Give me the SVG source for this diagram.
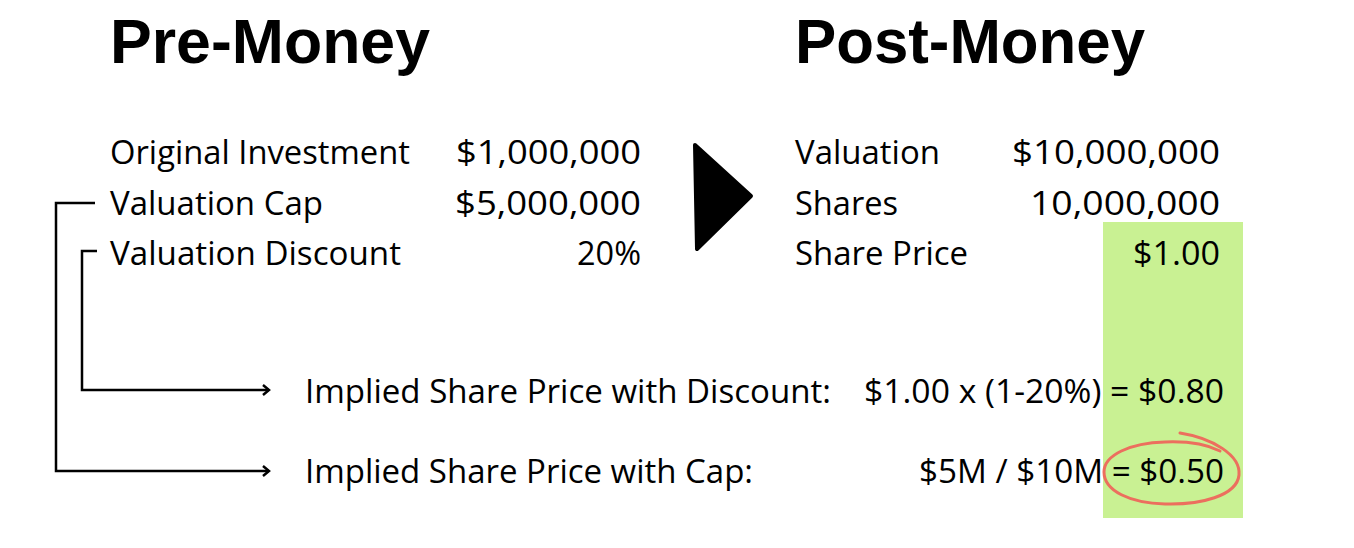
<svg xmlns="http://www.w3.org/2000/svg" width="1354" height="548" viewBox="0 0 1354 548">
<style>
.t{font-family:"Open Sans","Liberation Sans",sans-serif;font-size:32px;fill:#000}
.r{text-anchor:end}
.h{font-family:"Liberation Sans","Open Sans",sans-serif;font-size:63px;font-weight:700;fill:#000}
.c{fill:none;stroke:#000;stroke-width:2.5}
</style>
<defs>
<marker id="arr" markerUnits="userSpaceOnUse" markerWidth="14" markerHeight="14" refX="9" refY="6" orient="auto">
<path d="M3,1 L9,6 L3,11" fill="none" stroke="#000" stroke-width="2.5"/>
</marker>
</defs>
<rect x="0" y="0" width="1354" height="548" fill="#fff"/>
<g id="highlight"><rect x="1103" y="222" width="140" height="296" fill="#c9f193"/></g>
<g id="pre-money">
<text class="h" x="110" y="63" textLength="320" lengthAdjust="spacingAndGlyphs">Pre-Money</text>
<text class="t" x="110" y="164" textLength="300" lengthAdjust="spacingAndGlyphs">Original Investment</text>
<text class="t r" x="641" y="164" textLength="185" lengthAdjust="spacingAndGlyphs">$1,000,000</text>
<text class="t" x="110" y="215" textLength="213" lengthAdjust="spacingAndGlyphs">Valuation Cap</text>
<text class="t r" x="641" y="215" textLength="186" lengthAdjust="spacingAndGlyphs">$5,000,000</text>
<text class="t" x="110" y="265" textLength="291" lengthAdjust="spacingAndGlyphs">Valuation Discount</text>
<text class="t r" x="641" y="265" textLength="64" lengthAdjust="spacingAndGlyphs">20%</text>
</g>
<g id="arrow"><path d="M695,145 L751,196 L697,249 Z" fill="#000" stroke="#000" stroke-width="4" stroke-linejoin="round"/></g>
<g id="post-money">
<text class="h" x="795" y="63" textLength="350" lengthAdjust="spacingAndGlyphs">Post-Money</text>
<text class="t" x="795" y="164" textLength="145" lengthAdjust="spacingAndGlyphs">Valuation</text>
<text class="t r" x="1220" y="164" textLength="208" lengthAdjust="spacingAndGlyphs">$10,000,000</text>
<text class="t" x="795" y="215" textLength="103" lengthAdjust="spacingAndGlyphs">Shares</text>
<text class="t r" x="1220" y="215" textLength="190" lengthAdjust="spacingAndGlyphs">10,000,000</text>
<text class="t" x="795" y="265" textLength="173" lengthAdjust="spacingAndGlyphs">Share Price</text>
<text class="t r" x="1220" y="265" textLength="87" lengthAdjust="spacingAndGlyphs">$1.00</text>
</g>
<g id="discount-row">
<text class="t" x="305" y="403" textLength="526" lengthAdjust="spacingAndGlyphs">Implied Share Price with Discount:</text>
<text class="t r" x="1224" y="403" textLength="360" lengthAdjust="spacingAndGlyphs">$1.00 x (1-20%) = $0.80</text>
</g>
<g id="cap-row">
<text class="t" x="305" y="483" textLength="448" lengthAdjust="spacingAndGlyphs">Implied Share Price with Cap:</text>
<text class="t r" x="1224" y="483" textLength="305" lengthAdjust="spacingAndGlyphs">$5M / $10M = $0.50</text>
</g>
<g id="circle"><path d="M1180,433 C1212,438 1241,455 1239,475 C1237,496 1200,505 1165,504 C1130,503 1104,491 1104,472 C1104,455 1130,443 1165,442 C1190,441 1208,445 1220,451" fill="none" stroke="#ec6f5e" stroke-width="3" stroke-linecap="round"/></g>
<g id="connectors">
<path class="c" d="M95,203 H56 V471 H269" marker-end="url(#arr)"/>
<path class="c" d="M97,251 H82 V390 H269" marker-end="url(#arr)"/>
</g>
</svg>
